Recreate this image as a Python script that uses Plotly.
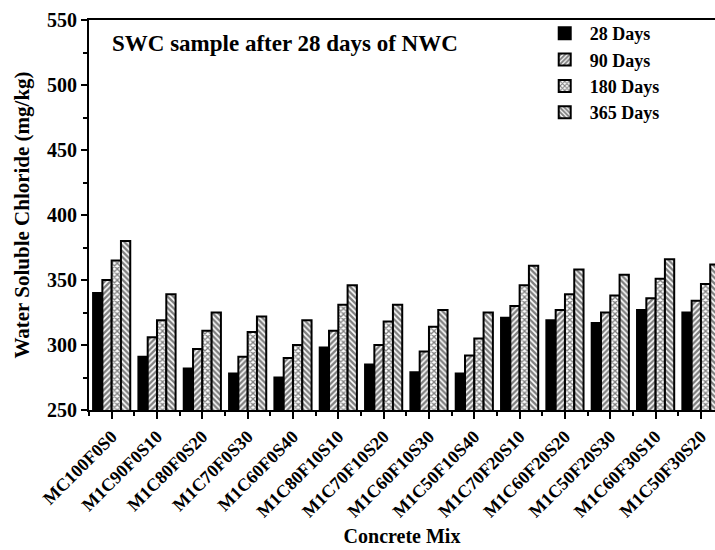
import plotly.graph_objects as go

categories = ["MC100F0S0", "M1C90F0S10", "M1C80F0S20", "M1C70F0S30", "M1C60F0S40",
              "M1C80F10S10", "M1C70F10S20", "M1C60F10S30", "M1C50F10S40", "M1C70F20S10",
              "M1C60F20S20", "M1C50F20S30", "M1C60F30S10", "M1C50F30S20"]
days_28 = [340, 291, 282, 278, 275, 298, 285, 279, 278, 321, 319, 317, 327, 325]
days_90 = [350, 306, 297, 291, 290, 311, 300, 295, 292, 330, 327, 325, 336, 334]
days_180 = [365, 319, 311, 310, 300, 331, 318, 314, 305, 346, 339, 338, 351, 347]
days_365 = [380, 339, 325, 322, 319, 346, 331, 327, 325, 361, 358, 354, 366, 362]
series_names = ["28 Days", "90 Days", "180 Days", "365 Days"]
y_ticks = [250, 300, 350, 400, 450, 500, 550]

FONT = "Liberation Serif"
x_pos = list(range(len(categories)))

patterns = [
    dict(shape=""),
    dict(shape="/", fgcolor="black", bgcolor="white", size=4, solidity=0.6),
    dict(shape="x", fgcolor="black", bgcolor="white", size=4, solidity=0.55),
    dict(shape="\\", fgcolor="black", bgcolor="white", size=4, solidity=0.6),
]
colors = ["black", "white", "white", "white"]

fig = go.Figure()
for name, vals, pat, col in zip(series_names, [days_28, days_90, days_180, days_365], patterns, colors):
    marker = dict(color=col, line=dict(color="black", width=2))
    if pat["shape"]:
        marker["pattern"] = pat
    fig.add_trace(go.Bar(x=x_pos, y=vals, name=name, marker=marker))

fig.update_layout(
    width=715, height=550,
    margin=dict(l=89, r=0, t=20, b=140),
    plot_bgcolor="white", paper_bgcolor="white",
    barmode="group", bargap=0.18, bargroupgap=0,
    font=dict(family=FONT, color="black", size=20, weight="bold"),
    showlegend=True,
    legend=dict(x=0.72, y=1.013, xanchor="left", yanchor="top",
                bgcolor="rgba(0,0,0,0)", font=dict(size=18, family=FONT, weight="bold"),
                tracegroupgap=0, itemwidth=40),
)
fig.update_xaxes(
    range=[-0.5, 13.31],
    tickmode="array", tickvals=x_pos, ticktext=categories, tickangle=-45,
    tickfont=dict(size=18, family=FONT, weight="bold"),
    ticks="outside", ticklen=7, tickwidth=1.5, tickcolor="black",
    minor=dict(tick0=0.5, dtick=1, ticks="outside", ticklen=4, tickwidth=1.5, tickcolor="black"),
    showline=True, linecolor="black", linewidth=2, mirror=True,
    showgrid=False, zeroline=False,
    title=dict(text="Concrete Mix", font=dict(size=20, family=FONT, weight="bold"), standoff=9),
)
fig.update_yaxes(
    range=[250, 550], tickvals=y_ticks,
    tickfont=dict(size=20, family=FONT, weight="bold"),
    ticks="outside", ticklen=6, tickwidth=1.5, tickcolor="black",
    minor=dict(dtick=25, tick0=250, ticks="outside", ticklen=4, tickwidth=1.5, tickcolor="black"),
    showline=True, linecolor="black", linewidth=2, mirror=False,
    showgrid=False, zeroline=False,
    title=dict(text="Water Soluble Chloride (mg/kg)", font=dict(size=21, family=FONT, weight="bold"), standoff=12),
)
fig.add_annotation(
    text="SWC sample after 28 days of NWC", xref="paper", yref="paper",
    x=0.034, y=0.94, xanchor="left", yanchor="middle", showarrow=False,
    font=dict(size=23, family=FONT, weight="bold", color="black"),
)
fig.write_html("out.html")
